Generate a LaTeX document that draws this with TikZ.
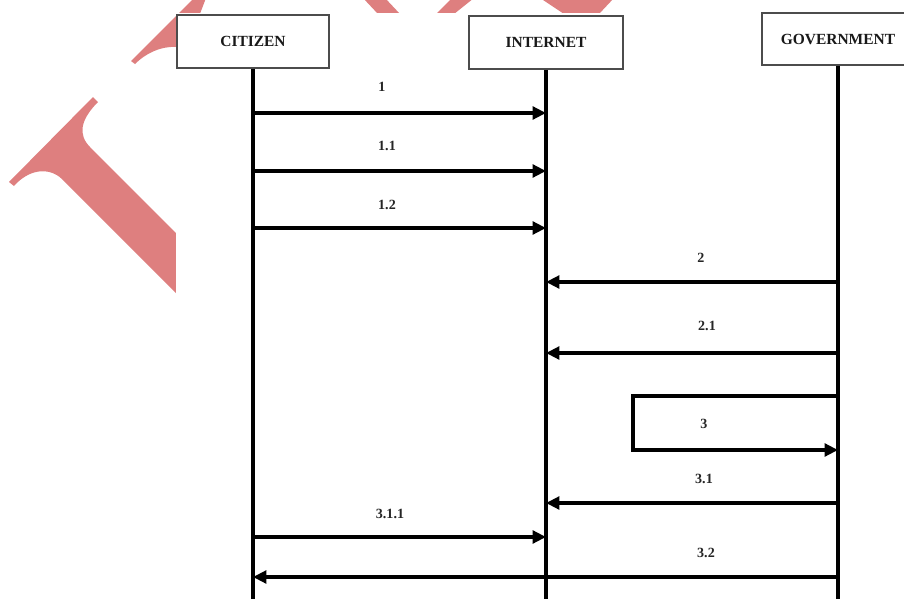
\documentclass[tikz,border=0pt]{standalone}
\usepackage{fontspec}
\setmainfont{Liberation Serif}
\usepackage{tikz}
\usetikzlibrary{arrows.meta,calc}
\usetikzlibrary{positioning}
\definecolor{stampred}{RGB}{222,127,127}
\newcommand{\TikZscale}{0.025}
\newcommand{\px}{*\TikZscale cm}
\tikzset{every picture/.style={>={Triangle[length=9.5pt,width=9pt]}}}
\tikzstyle{actor}		= [draw=black!70, line width=1.1pt, fill=white, inner sep=0pt,
						   minimum width=152\px, minimum height=53\px,
						   text=black!90, font=\bfseries\fontsize{11}{13}\selectfont]
\tikzstyle{life}		= [line width=2.4pt]
\tikzstyle{to}			= [->, line width=2.6pt]
\tikzstyle{msg label}	= [text=black!85, font=\bfseries\fontsize{10}{12}\selectfont]
\tikzstyle{stamp}		= [fill=stampred]

\begin{document}
\begin{tikzpicture}[x=1\px, y=-1\px]
	\useasboundingbox (0,0) rectangle (904,599);
	\clip (0,0) rectangle (904,599);

	% Stempel
	\fill[stamp] (9,182) -- (93,97) -- (98,102) .. controls (80,120) and (78,135) .. (90,147)
		-- (200,257) -- (200,317) -- (62,179) .. controls (48,166) and (28,170) .. (14,186) -- cycle;
	\fill[stamp] (131,61) -- (194,-2) -- (206,-2) -- (190,40) -- (176,47)
		.. controls (160,46) and (145,54) .. (135,64) -- cycle;
	\fill[stamp] (363,-2) -- (385,-2) -- (400,14) -- (378,14) -- cycle;
	\fill[stamp] (452,-2) -- (474,-2) -- (454,14) -- (436,14) -- cycle;
	\fill[stamp] (540,-2) -- (614,-2) -- (599,14) -- (564,14) -- cycle;

	% Zeichenflaeche
	\fill[white] (176,13) rectangle (910,605);

	% Akteure
	\node[actor] (citizen) at (253,41.5) {CITIZEN};
	\node[actor, minimum width=154\px] (internet) at (546,42.5) {INTERNET};
	\node[actor, minimum height=52\px] (government) at (838,39) {GOVERNMENT};
	\coordinate (bottom) at (0,605);
	\coordinate (turn) at (633,0);

	% Lebenslinien
	\foreach \a in {citizen, internet, government}
		\draw[life] (\a.south) -- (\a.south |- bottom);

	% Nachrichten
	\draw[to] (citizen |- 0,113) -- (internet |- 0,113);
	\draw[to] (citizen |- 0,171) -- (internet |- 0,171);
	\draw[to] (citizen |- 0,228) -- (internet |- 0,228);
	\draw[to] (government |- 0,282) -- (internet |- 0,282);
	\draw[to] (government |- 0,353) -- (internet |- 0,353);
	\draw[to] (government |- 0,396) -- (turn |- 0,396) -- (turn |- 0,450) -- (government |- 0,450);
	\draw[to] (government |- 0,503) -- (internet |- 0,503);
	\draw[to] (citizen |- 0,537) -- (internet |- 0,537);
	\draw[to] (government |- 0,577) -- (citizen |- 0,577);

	% Beschriftung
	\node[msg label] (l1)   at (382,87)  {1};
	\node[msg label] (l11)  at (387,146) {1.1};
	\node[msg label] (l12)  at (387,205) {1.2};
	\node[msg label] (l2)   at (701,258) {2};
	\node[msg label] (l21)  at (707,326) {2.1};
	\node[msg label] (l3)   at (704,424) {3};
	\node[msg label] (l31)  at (704,479) {3.1};
	\node[msg label] (l311) at (390,514) {3.1.1};
	\node[msg label] (l32)  at (706,553) {3.2};
\end{tikzpicture}
\end{document}
